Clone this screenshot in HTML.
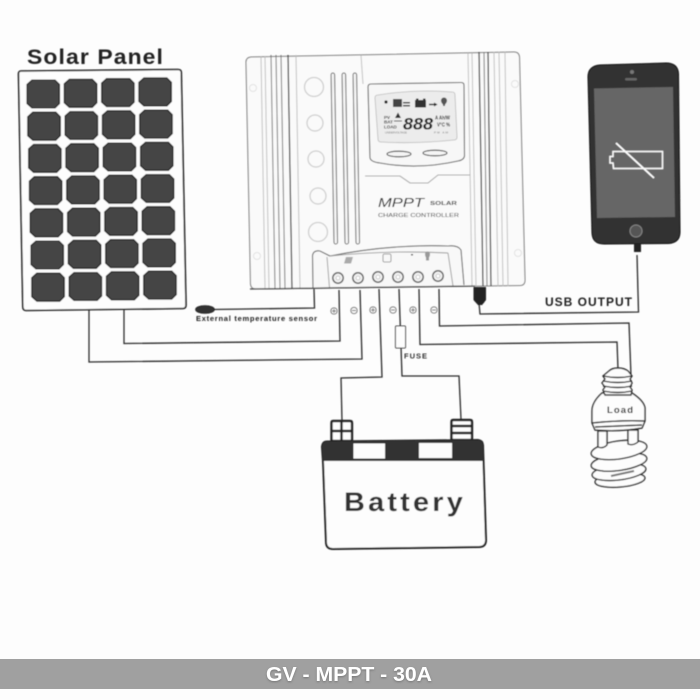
<!DOCTYPE html>
<html><head><meta charset="utf-8"><style>
html,body{margin:0;padding:0;width:700px;height:700px;overflow:hidden;background:#fdfdfd}
svg{display:block}
text{font-family:"Liberation Sans",sans-serif}
</style></head><body>
<svg width="700" height="700" viewBox="0 0 700 700" xmlns="http://www.w3.org/2000/svg">
<defs>
<filter id="b" x="-5%" y="-5%" width="110%" height="110%"><feGaussianBlur stdDeviation="0.45"/></filter>
<filter id="sh" x="-5%" y="-30%" width="110%" height="160%"><feDropShadow dx="0" dy="1" stdDeviation="1" flood-color="#555" flood-opacity=".6"/></filter>
<path id="c" d="M5 0H28L32.5 4.5V23.5L28 28H5L0 23.5V4.5Z" fill="#454545" stroke="#111" stroke-width="1.1"/>
<circle id="s" r="3.2" fill="none" stroke="#777" stroke-width=".9"/>
<g id="t"><circle r="5.2" fill="#f4f4f4" stroke="#666" stroke-width="1.5"/><circle r="2" fill="#fff" stroke="#aaa" stroke-width=".6"/></g>
</defs>
<rect width="700" height="700" fill="#fdfdfd"/>
<g filter="url(#b)">

<!-- Solar panel -->
<text x="27" y="64" font-size="21" font-weight="bold" letter-spacing="1" fill="#222" textLength="137" lengthAdjust="spacingAndGlyphs">Solar Panel</text>
<path d="M21 71L178 69.5Q181 69.5 181.3 72L186 305Q186 308.5 183 308.5L26 310.5Q23 310.5 22.8 307L18.5 74Q18.5 71 21 71Z" fill="#fdfdfd" stroke="#1a1a1a" stroke-width="1.6"/>
<use href="#c" x="27" y="80"/><use href="#c" x="64.3" y="79.3"/><use href="#c" x="101.6" y="78.6"/><use href="#c" x="138.9" y="77.9"/>
<use href="#c" x="27.8" y="112.2"/><use href="#c" x="65.1" y="111.5"/><use href="#c" x="102.4" y="110.8"/><use href="#c" x="139.7" y="110.1"/>
<use href="#c" x="28.6" y="144.4"/><use href="#c" x="65.9" y="143.7"/><use href="#c" x="103.2" y="143"/><use href="#c" x="140.5" y="142.3"/>
<use href="#c" x="29.4" y="176.6"/><use href="#c" x="66.7" y="175.9"/><use href="#c" x="104" y="175.2"/><use href="#c" x="141.3" y="174.5"/>
<use href="#c" x="30.2" y="208.8"/><use href="#c" x="67.5" y="208.1"/><use href="#c" x="104.8" y="207.4"/><use href="#c" x="142.1" y="206.7"/>
<use href="#c" x="31" y="241"/><use href="#c" x="68.3" y="240.3"/><use href="#c" x="105.6" y="239.6"/><use href="#c" x="142.9" y="238.9"/>
<use href="#c" x="31.8" y="273.2"/><use href="#c" x="69.1" y="272.5"/><use href="#c" x="106.4" y="271.8"/><use href="#c" x="143.7" y="271.1"/>

<!-- Controller body -->
<path d="M251 57L514 52Q519 52 519.5 57L525 280Q525 285.5 520 285.5L256 289Q251 289 250.5 284L246 62Q246 57.5 251 57Z" fill="#fafafa" stroke="#777" stroke-width="1"/>
<g fill="none" stroke="#bbb" stroke-width=".9">
<path d="M261 56L265 288M265 56L269 288M296 55L300 288"/>
<path d="M468 53L472 286M472 53L476 286M494 52L498 286M499 52L503 286M505 52L508 286"/>
<path d="M361 55L363 84"/>
</g>
<g fill="none" stroke="#777" stroke-width="1">
<path d="M271 55L275 288M276 55L280 288M281 55L285 288"/>
<path d="M288 55L292 288" stroke="#444" stroke-width="1.3"/>
<path d="M479 52L483 286M488 52L491 286" stroke="#444" stroke-width="1.3"/>
<path d="M484 52L487 286"/>
</g>
<g fill="none" stroke="#e2e2e2" stroke-width="1">
<circle cx="253" cy="88" r="3.5"/><circle cx="515" cy="84" r="3.5"/><circle cx="257" cy="256" r="3.5"/><circle cx="518" cy="253" r="3.5"/>
</g>
<g fill="#fafafa" stroke="#cfcfcf" stroke-width="1.3">
<circle cx="314" cy="87" r="9.5"/><circle cx="315" cy="123" r="8"/><circle cx="316" cy="159" r="8"/><circle cx="318" cy="196" r="8"/><circle cx="318" cy="232" r="9.5"/>
</g>
<g fill="#f5f5f5" stroke="#666" stroke-width="1">
<rect x="332.5" y="73" width="3.6" height="171" rx="1.8" transform="rotate(-1 334 158)"/>
<rect x="343.5" y="73" width="3.6" height="171" rx="1.8" transform="rotate(-1 345 158)"/>
<rect x="354.5" y="73" width="3.6" height="171" rx="1.8" transform="rotate(-1 356 158)"/>
</g>

<!-- LCD housing -->
<path d="M371 84L461 82.5Q464 82.5 464 85L464.5 156Q464 160 458 161Q418 170 380 163Q371 162 370 158L368 87Q368 84 371 84Z" fill="#f7f7f7" stroke="#666" stroke-width="1.1"/>
<path d="M378 95Q415 89 452 92Q455 92 455 95L457 137Q457 140 454 140Q415 144 381 142Q378 142 378 139L375 98Q375 95 378 95Z" fill="#ececec" stroke="#bbb" stroke-width=".8"/>
<circle cx="386" cy="102" r="1.6" fill="#222"/>
<rect x="393" y="99" width="9" height="8" fill="#444"/>
<rect x="403" y="102" width="7" height="1.5" fill="#333"/><rect x="403" y="105" width="7" height="1.5" fill="#333"/>
<rect x="415" y="100" width="11" height="7.5" fill="#333"/><rect x="416" y="98.5" width="2.5" height="2" fill="#333"/><rect x="423" y="98.5" width="2.5" height="2" fill="#333"/>
<path d="M429 104.5H435" stroke="#222" stroke-width="1.4"/><path d="M434 102.5L437.5 104.5L434 106.5Z" fill="#222"/>
<path d="M441 100.5a3 3 0 1 1 6 0q0 2-2 4v1.5h-2v-1.5q-2-2-2-4Z" fill="#555"/>
<path d="M398 112.5L401 118H395Z" fill="#333"/>
<rect x="394" y="120.5" width="8" height="1" fill="#444"/>
<text x="384" y="119" font-size="4.5" font-weight="bold" fill="#333">PV</text>
<text x="384" y="123.5" font-size="4.5" font-weight="bold" fill="#333">BAT</text>
<text x="384" y="128.5" font-size="4.5" font-weight="bold" fill="#333">LOAD</text>
<text x="403" y="129.5" font-size="17" font-weight="bold" font-style="italic" fill="#222" textLength="30" lengthAdjust="spacingAndGlyphs">888</text>
<text x="435" y="119.5" font-size="5" font-weight="bold" fill="#333" textLength="15" lengthAdjust="spacingAndGlyphs">A Ah/W</text>
<text x="437" y="126.5" font-size="5" font-weight="bold" fill="#333" textLength="13" lengthAdjust="spacingAndGlyphs">V°C %</text>
<text x="385" y="133.5" font-size="3" fill="#777" textLength="22" lengthAdjust="spacingAndGlyphs">UNDERVOLTAGE</text>
<text x="434" y="133.5" font-size="3" fill="#777" textLength="14">PM  AM</text>
<ellipse cx="399" cy="154" rx="12" ry="2.8" fill="#f5f5f5" stroke="#444" stroke-width="1.1"/>
<ellipse cx="435" cy="153" rx="12" ry="2.8" fill="#f5f5f5" stroke="#444" stroke-width="1.1"/>
<path d="M365 176H400L410 183H428L438 175H470" fill="none" stroke="#aaa" stroke-width="1.1"/>

<text x="378" y="207" font-size="12.5" font-style="italic" fill="#222" textLength="46" lengthAdjust="spacingAndGlyphs">MPPT</text>
<text x="430" y="205" font-size="5.5" font-weight="bold" fill="#444" textLength="27" lengthAdjust="spacingAndGlyphs">SOLAR</text>
<text x="378" y="217" font-size="5.5" fill="#333" textLength="81" lengthAdjust="spacingAndGlyphs">CHARGE CONTROLLER</text>

<!-- Terminal block -->
<path d="M313 288L312.5 256Q313 250 320 251L330 256Q390 244 448 246Q458 245 461 250L464 285" fill="#f8f8f8" stroke="#666" stroke-width="1.1"/>
<path d="M327 257L329.5 288M448 253L453 286M330 256Q390 250 448 253" fill="none" stroke="#999" stroke-width=".9"/>
<path d="M250 289L475 286" fill="none" stroke="#444" stroke-width="1.3"/>
<path d="M346 257H353L351 263.5H344Z" fill="#aaa"/>
<rect x="383" y="254" width="8" height="8" rx="1.5" fill="#f8f8f8" stroke="#888" stroke-width=".8"/>
<path d="M425 254a2.5 2.5 0 0 1 5 0q0 2-1 3.5v3h-3v-3q-1-1.5-1-3.5Z" fill="#999"/>
<rect x="411" y="254" width="2" height="1.5" fill="#555"/>
<use href="#t" x="338" y="278"/><use href="#t" x="358" y="278"/><use href="#t" x="378" y="277"/><use href="#t" x="398" y="277"/><use href="#t" x="418" y="277"/><use href="#t" x="438" y="276"/>

<!-- Wires -->
<g fill="none" stroke="#2a2a2a" stroke-width="1.3">
<path d="M314 289L314.5 308L213 309.5"/>
<path d="M339 290L340 341L124 343.5V309"/>
<path d="M360 290L362 359L89 362V310"/>
<path d="M379 289L382 377L341 378L342 421"/>
<path d="M399 289L402 376L459 376L461 419"/>
<path d="M419 289L420 344.5L617 342L618 369"/>
<path d="M439 289L439.5 326L629 323L631 376"/>
<path d="M479 303L480 314L638.5 312L637 255"/>
</g>
<ellipse cx="205" cy="309.5" rx="9.5" ry="4" fill="#333" stroke="#111" stroke-width=".6"/>
<rect x="395.5" y="326" width="10" height="22" rx="1" fill="#fdfdfd" stroke="#333" stroke-width="1"/>
<path d="M473.5 287H486V300L483 304H477L473.5 300Z" fill="#222"/>
<rect x="477.5" y="302" width="5" height="3" fill="#222"/>
<use href="#s" x="334" y="311"/><use href="#s" x="354" y="310.5"/><use href="#s" x="373" y="310"/><use href="#s" x="393" y="310"/><use href="#s" x="413" y="310"/><use href="#s" x="434" y="310"/>
<path d="M332 311H336M334 309V313M352 310.5H356M371 310H375M373 308V312M391 310H395M411 310H415M413 308V312M432 310H436" stroke="#666" stroke-width=".7" fill="none"/>

<text x="196" y="321" font-size="7.5" font-weight="bold" fill="#222" textLength="121" lengthAdjust="spacing">External temperature sensor</text>
<text x="404" y="358.5" font-size="7.5" font-weight="bold" fill="#333" textLength="23" lengthAdjust="spacing">FUSE</text>
<text x="545" y="306" font-size="12" font-weight="bold" fill="#222" textLength="87" lengthAdjust="spacing">USB OUTPUT</text>

<!-- Phone -->
<path d="M600 65L666 63Q678 63 678.5 74L680 232Q680 243 668 243.5L604 244Q592.5 244 592 233L588 77Q588 66 600 65Z" fill="#333" stroke="#111" stroke-width="1"/>
<path d="M594 88.5L673 87L675 217L597 218Z" fill="#666"/>
<circle cx="632" cy="72" r="2" fill="#777"/>
<rect x="625" y="78" width="12" height="2.5" rx="1.2" fill="#666"/>
<circle cx="636" cy="231" r="6" fill="#555" stroke="#888" stroke-width="1"/>
<path d="M613 151.5H662.5V168.5H613.5L613 163H610V156.5H613Z" fill="none" stroke="#fff" stroke-width="1.5"/>
<path d="M616 143L654 178" stroke="#fff" stroke-width="1.8"/>
<rect x="634" y="243" width="7" height="9" fill="#222"/>

<!-- Bulb -->
<g fill="#fdfdfd" stroke="#2c2c2c" stroke-width="1.4">
<ellipse cx="620" cy="480" rx="25" ry="7" transform="rotate(-5 620 480)"/>
<ellipse cx="619" cy="472" rx="27" ry="8" transform="rotate(-7 619 472)"/>
<ellipse cx="619" cy="462" rx="28" ry="8.5" transform="rotate(-8 619 462)"/>
<ellipse cx="619" cy="450" rx="28" ry="9" transform="rotate(-8 619 450)"/>
<path d="M598 431V447Q603 449 607 445V431Z"/>
<path d="M628 430V444Q633 446 638 442V430Z"/>
<path d="M611 476L634 471" fill="none" stroke="#777" stroke-width="2"/>
<path d="M602 393Q592 402 592 411V423L595 430Q620 432 642 428L645 421V408Q644 401 632 393Z"/>
<path d="M592 423Q620 420 645 421M595 427Q620 426 642 425" fill="none"/>
<path d="M605 395H631L632 390L630 387L632 383L630 379L632 376L628 371Q624 368 618 368Q612 368 609 371L603 376L605 379L602 383L605 387L603 390Z"/>
<path d="M603 376Q618 379 632 376M603 381Q618 384 632 381M603 386Q618 389 632 386M603 391Q618 394 632 391" fill="none"/>
</g>
<text x="607" y="413" font-size="9.5" font-weight="bold" fill="#222" textLength="26" lengthAdjust="spacing">Load</text>

<!-- Battery -->
<g fill="#fdfdfd" stroke="#222" stroke-width="2.4">
<path d="M333 421H350Q352 421 352 423V441H331.5V423Q331.5 421 333 421Z"/>
<path d="M331.5 431H352M341.5 421V441" fill="none"/>
<path d="M453 420H470Q472 420 472 422V440H451.5V422Q451.5 420 453 420Z"/>
<path d="M451.5 426H472M451.5 433H472" fill="none"/>
</g>
<path d="M327 441L478 439.5Q483 440 483.5 445L484 461L322.5 462L321.5 447Q322 441 327 441Z" fill="#333" stroke="#222"/>
<rect x="353.5" y="443.5" width="31.5" height="15" fill="#fdfdfd"/>
<rect x="419" y="443" width="33" height="15" fill="#fdfdfd"/>
<path d="M323 461L326 542Q326 549 333 549L479 547Q486 547 486 540L483.5 461" fill="#fdfdfd" stroke="#222" stroke-width="2"/>
<text x="344" y="511" font-size="27" font-weight="bold" letter-spacing="3" fill="#333" textLength="122" lengthAdjust="spacingAndGlyphs">Battery</text>
</g>

<!-- Bottom bar -->
<rect x="0" y="659" width="700" height="30" fill="#a0a0a0"/>
<text x="266" y="681" font-size="20" font-weight="bold" fill="#fff" textLength="166" lengthAdjust="spacingAndGlyphs" filter="url(#sh)">GV - MPPT - 30A</text>
</svg>
</body></html>
